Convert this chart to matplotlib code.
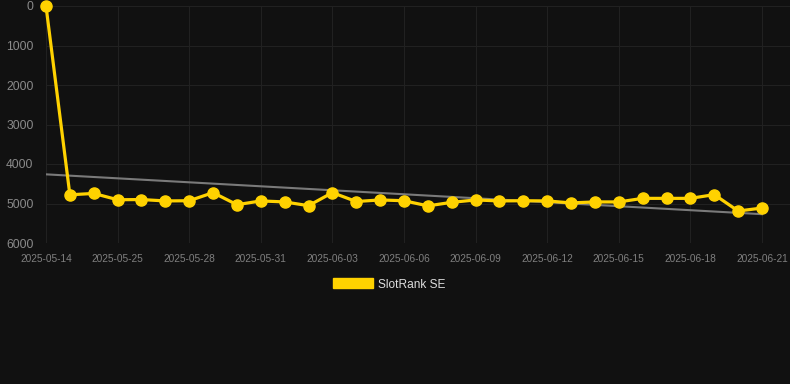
import numpy as np
import matplotlib
matplotlib.use("Agg")
import matplotlib.pyplot as plt
from matplotlib.patches import Patch

plt.rcParams['font.family'] = ['Liberation Sans', 'DejaVu Sans']

dates = ["2025-05-14"] + [f"2025-05-{d:02d}" for d in range(23, 32)] + [f"2025-06-{d:02d}" for d in range(1, 22)]
ranks = [0, 4780, 4745, 4905, 4900, 4935, 4930, 4725, 5030, 4935, 4960, 5055,
         4725, 4950, 4910, 4930, 5060, 4970, 4910, 4935, 4930, 4935, 4985, 4960,
         4960, 4870, 4870, 4870, 4775, 5190, 5115]
series_name = "SlotRank SE"
yticks = [0, 1000, 2000, 3000, 4000, 5000, 6000]

BG = "#111111"
YEL = "#FFD200"
W, H = 790, 384
fig = plt.figure(figsize=(W / 100, H / 100), dpi=100, facecolor=BG)
ax = fig.add_axes([46 / W, 1 - 243 / H, (W - 46) / W, (243 - 6) / H], facecolor=BG)

x = np.arange(len(dates))
y = np.array(ranks, dtype=float)

# trend line (linear regression)
k, b = np.polyfit(x, y, 1)
ax.plot([x[0], x[-1]], [k * x[0] + b, k * x[-1] + b], color="#7a7a7a", lw=1.5, zorder=2)

ax.plot(x, y, color=YEL, lw=2.3, marker="o", markersize=8, markerfacecolor=YEL,
        markeredgecolor=YEL, zorder=3, clip_on=False)

ax.set_ylim(6000, 0)
ax.set_xlim(0, 30 + 28 / 23.87)
ax.set_yticks(yticks)
ax.set_yticklabels([str(v) for v in yticks])
tick_idx = list(range(0, len(dates), 3))
ax.set_xticks(tick_idx)
ax.set_xticklabels([dates[i] for i in tick_idx])

ax.grid(True, color="#212121", lw=0.75)
ax.set_axisbelow(True)
for s in ax.spines.values():
    s.set_visible(False)
ax.tick_params(axis="y", length=0, pad=9, labelsize=8.7, labelcolor="#8a8a8a")
ax.tick_params(axis="x", length=0, pad=8, labelsize=7.3, labelcolor="#7f7f7f")

leg = fig.legend(handles=[Patch(facecolor=YEL, edgecolor=YEL, label=series_name)],
                 loc="center", bbox_to_anchor=(389.5 / W, 1 - 284.5 / H),
                 frameon=False, handlelength=3.3, handleheight=0.9, handletextpad=0.45,
                 fontsize=8.6, labelcolor="#dddddd")

fig.savefig("out.png", dpi=100, facecolor=BG)
